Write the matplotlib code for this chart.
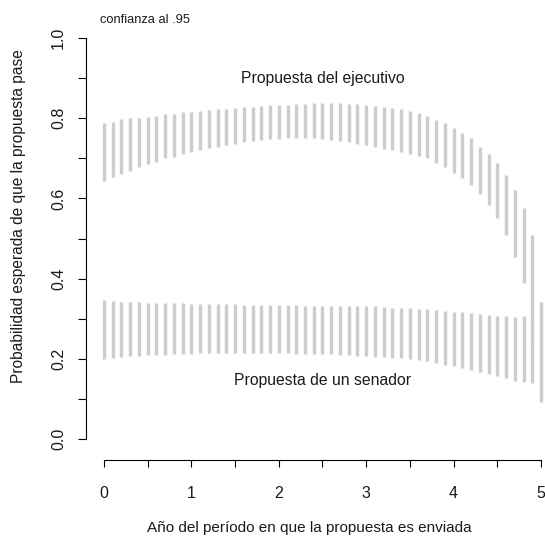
"""
Intervalos de confianza (95%) de la probabilidad esperada de que una
propuesta pase, según el año del período en que es enviada.
"""

import matplotlib

matplotlib.use("Agg")
import matplotlib.pyplot as plt

# --- datos --------------------------------------------------------------
anos = [
    0.0, 0.1, 0.2, 0.3, 0.4, 0.5, 0.6, 0.7, 0.8, 0.9,
    1.0, 1.1, 1.2, 1.3, 1.4, 1.5, 1.6, 1.7, 1.8, 1.9,
    2.0, 2.1, 2.2, 2.3, 2.4, 2.5, 2.6, 2.7, 2.8, 2.9,
    3.0, 3.1, 3.2, 3.3, 3.4, 3.5, 3.6, 3.7, 3.8, 3.9,
    4.0, 4.1, 4.2, 4.3, 4.4, 4.5, 4.6, 4.7, 4.8, 4.9,
    5.0,
]

ejecutivo_sup = [
    0.788, 0.791, 0.797, 0.800, 0.801, 0.804, 0.806, 0.810, 0.810, 0.815,
    0.815, 0.818, 0.820, 0.822, 0.823, 0.825, 0.827, 0.829, 0.830, 0.832,
    0.833, 0.834, 0.835, 0.836, 0.837, 0.837, 0.838, 0.837, 0.836, 0.835,
    0.833, 0.831, 0.829, 0.825, 0.822, 0.818, 0.812, 0.806, 0.796, 0.787,
    0.776, 0.762, 0.750, 0.729, 0.712, 0.688, 0.658, 0.621, 0.575, 0.510,
    0.342,
]
ejecutivo_inf = [
    0.643, 0.654, 0.660, 0.668, 0.679, 0.685, 0.692, 0.700, 0.704, 0.712,
    0.716, 0.721, 0.725, 0.729, 0.733, 0.735, 0.740, 0.744, 0.746, 0.748,
    0.749, 0.751, 0.751, 0.751, 0.750, 0.749, 0.746, 0.743, 0.740, 0.737,
    0.733, 0.729, 0.724, 0.720, 0.716, 0.712, 0.706, 0.700, 0.688, 0.679,
    0.663, 0.652, 0.633, 0.610, 0.584, 0.550, 0.509, 0.455, 0.388, 0.250,
    0.093,
]

senador_sup = [
    0.347, 0.344, 0.342, 0.342, 0.341, 0.340, 0.338, 0.338, 0.338, 0.338,
    0.337, 0.337, 0.336, 0.336, 0.336, 0.336, 0.335, 0.334, 0.334, 0.335,
    0.335, 0.335, 0.334, 0.332, 0.332, 0.332, 0.332, 0.332, 0.332, 0.332,
    0.332, 0.331, 0.330, 0.328, 0.327, 0.326, 0.325, 0.324, 0.322, 0.319,
    0.318, 0.317, 0.314, 0.311, 0.309, 0.308, 0.307, 0.305, 0.306, 0.300,
    0.290,
]
senador_inf = [
    0.199, 0.201, 0.205, 0.207, 0.208, 0.209, 0.209, 0.210, 0.211, 0.213,
    0.213, 0.214, 0.214, 0.214, 0.215, 0.215, 0.215, 0.215, 0.215, 0.215,
    0.215, 0.215, 0.213, 0.212, 0.212, 0.211, 0.211, 0.209, 0.209, 0.208,
    0.207, 0.205, 0.204, 0.203, 0.201, 0.200, 0.197, 0.195, 0.190, 0.185,
    0.181, 0.176, 0.172, 0.168, 0.161, 0.156, 0.151, 0.145, 0.143, 0.140,
    0.130,
]

x_ticks = [0, 0.5, 1, 1.5, 2, 2.5, 3, 3.5, 4, 4.5, 5]
x_tick_labels = ["0", "", "1", "", "2", "", "3", "", "4", "", "5"]
y_ticks = [0.0, 0.1, 0.2, 0.3, 0.4, 0.5, 0.6, 0.7, 0.8, 0.9, 1.0]
y_tick_labels = ["0.0", "", "0.2", "", "0.4", "", "0.6", "", "0.8", "", "1.0"]

BAR_COLOR = "#cdcdcd"
TEXT_COLOR = "#1a1a1a"
FONT = ["Liberation Sans", "DejaVu Sans"]


def draw_intervals(ax, lower, upper):
    """Draw one vertical segment per year fraction."""
    ax.vlines(anos, lower, upper, colors=BAR_COLOR, linewidth=2.4,
              capstyle="butt")


def main():
    plt.rcParams["font.family"] = FONT
    plt.rcParams["font.size"] = 11.5
    plt.rcParams["text.color"] = TEXT_COLOR
    plt.rcParams["xtick.labelcolor"] = TEXT_COLOR
    plt.rcParams["ytick.labelcolor"] = TEXT_COLOR

    fig = plt.figure(figsize=(5.45, 5.40), dpi=100)
    ax = fig.add_axes([0.1587, 0.1481, 0.842, 0.8111])

    draw_intervals(ax, ejecutivo_inf, ejecutivo_sup)
    draw_intervals(ax, senador_inf, senador_sup)

    ax.set_xlim(-0.2, 5.05)
    ax.set_ylim(-0.0524, 1.04)

    # R-style detached axes
    for side in ("top", "right"):
        ax.spines[side].set_visible(False)
    ax.spines["left"].set_bounds(0, 1)
    ax.spines["bottom"].set_bounds(0, 5)
    for side in ("left", "bottom"):
        ax.spines[side].set_linewidth(0.8)

    ax.set_xticks(x_ticks)
    ax.set_xticklabels(x_tick_labels)
    ax.set_yticks(y_ticks)
    ax.set_yticklabels(y_tick_labels, rotation=90, va="center")
    ax.tick_params(axis="x", length=5.2, width=0.8, pad=13.5,
                   labelsize=11.5)
    ax.tick_params(axis="y", length=5.8, width=0.8, pad=9,
                   labelsize=11.5)

    ax.text(2.5, 0.9, "Propuesta del ejecutivo", ha="center",
            va="center", fontsize=11.3)
    ax.text(2.5, 0.147, "Propuesta de un senador", ha="center",
            va="center", fontsize=11.3)

    fig.text(100 / 545, 1 - 20 / 540, "confianza al .95", ha="left",
             va="center", fontsize=9.3)
    fig.text(309 / 545, 1 - 528 / 540,
             "Año del período en que la propuesta es enviada",
             ha="center", va="center", fontsize=11.0)
    fig.text(19 / 545, 1 - 216 / 540,
             "Probabilidad esperada de que la propuesta pase",
             ha="center", va="center", rotation=90, fontsize=11.2)

    fig.savefig("out.png", dpi=100)


if __name__ == "__main__":
    main()
